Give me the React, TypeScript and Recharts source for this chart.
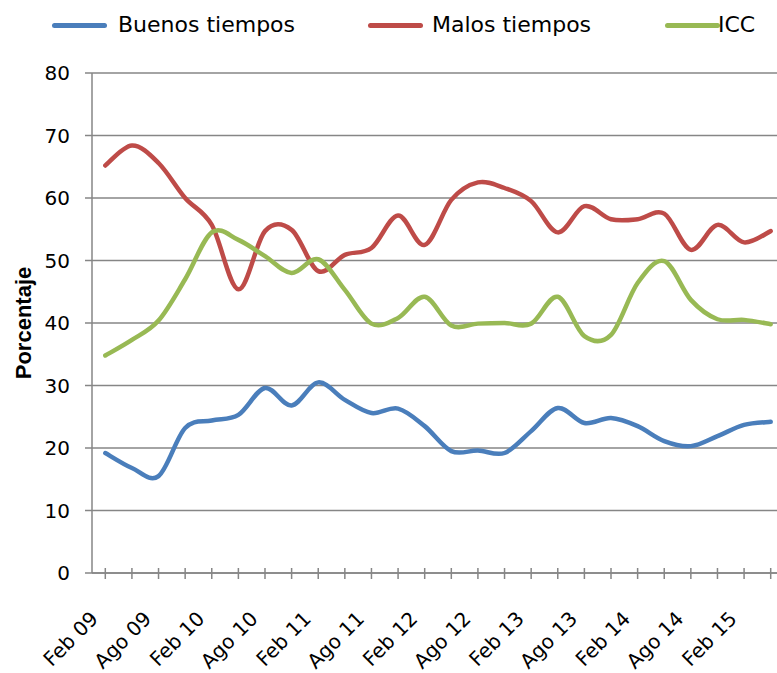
import React from "react";
import { LineChart, Line, XAxis, YAxis, CartesianGrid } from "recharts";

const categories = [
  "Feb 09", "May 09", "Ago 09", "Nov 09",
  "Feb 10", "May 10", "Ago 10", "Nov 10",
  "Feb 11", "May 11", "Ago 11", "Nov 11",
  "Feb 12", "May 12", "Ago 12", "Nov 12",
  "Feb 13", "May 13", "Ago 13", "Nov 13",
  "Feb 14", "May 14", "Ago 14", "Nov 14",
  "Feb 15", "May 15",
];

const buenosTiempos = [
  19.2, 16.8, 15.5, 23.2, 24.4, 25.3, 29.6, 26.8, 30.5, 27.7, 25.6, 26.3, 23.5,
  19.5, 19.6, 19.2, 22.7, 26.4, 24.0, 24.8, 23.5, 21.1, 20.3, 21.9, 23.7, 24.2,
];

const malosTiempos = [
  65.2, 68.4, 65.6, 60.0, 55.7, 45.4, 54.7, 54.9, 48.3, 50.9, 52.0, 57.2, 52.5,
  59.7, 62.5, 61.6, 59.5, 54.5, 58.7, 56.6, 56.6, 57.5, 51.7, 55.7, 52.9, 54.7,
];

const icc = [
  34.8, 37.3, 40.4, 47.0, 54.5, 53.3, 50.7, 48.0, 50.2, 45.3, 39.9, 40.8, 44.2,
  39.6, 39.9, 40.0, 39.9, 44.2, 37.9, 38.1, 46.4, 49.9, 43.7, 40.6, 40.5, 39.8,
];

const yTicks = [0, 10, 20, 30, 40, 50, 60, 70, 80];

const seriesNames = ["Buenos tiempos", "Malos tiempos", "ICC"];
const seriesColors = ["#4A7EBB", "#BE4B48", "#98B954"];

const data = categories.map((c, i) => ({
  cat: c,
  buenos: buenosTiempos[i],
  malos: malosTiempos[i],
  icc: icc[i],
}));

// Excel-like smoothed line (Catmull-Rom through the points)
function excelCurve(context: any) {
  let pts: number[][] = [];
  return {
    areaStart() {},
    areaEnd() {},
    lineStart() {
      pts = [];
    },
    point(x: number, y: number) {
      pts.push([+x, +y]);
    },
    lineEnd() {
      if (!pts.length) return;
      context.moveTo(pts[0][0], pts[0][1]);
      for (let i = 0; i < pts.length - 1; i++) {
        const p0 = pts[i - 1] || pts[i];
        const p1 = pts[i];
        const p2 = pts[i + 1];
        const p3 = pts[i + 2] || p2;
        context.bezierCurveTo(
          p1[0] + (p2[0] - p0[0]) / 6,
          p1[1] + (p2[1] - p0[1]) / 6,
          p2[0] - (p3[0] - p1[0]) / 6,
          p2[1] - (p3[1] - p1[1]) / 6,
          p2[0],
          p2[1]
        );
      }
    },
  };
}

const AXIS_COLOR = "#868686";
const TICK_FONT = "'DejaVu Sans', sans-serif";

const XTick = (props: any) => {
  const { x, y, payload, index } = props;
  const showLabel = index % 2 === 0;
  const tx = x - 6;
  const ty = y + 47;
  return (
    <g>
      <line x1={x} x2={x} y1={y - 5} y2={y + 6} stroke={AXIS_COLOR} strokeWidth={1.5} />
      {showLabel && (
        <text
          x={tx}
          y={ty}
          transform={`rotate(-45, ${tx}, ${ty})`}
          textAnchor="end"
          fontFamily={TICK_FONT}
          fontSize={20}
          fill="#000"
        >
          {payload.value}
        </text>
      )}
    </g>
  );
};

const YLabel = (props: any) => {
  const vb = props.viewBox || {};
  const cx = (vb.x || 0) + 23;
  const cy = (vb.y || 0) + (vb.height || 0) / 2;
  return (
    <text
      x={cx}
      y={cy}
      transform={`rotate(-90, ${cx}, ${cy})`}
      textAnchor="middle"
      dominantBaseline="central"
      fontFamily="'Liberation Sans', Arial, sans-serif"
      fontWeight="bold"
      fontSize={22}
      fill="#000"
    >
      Porcentaje
    </text>
  );
};

const legendLineLeft = [52, 368, 665];
const legendTextLeft = [118, 432, 718];

export default function App() {
  return (
    <div
      style={{
        position: "absolute",
        left: 0,
        top: 0,
        width: 777,
        height: 673,
        overflow: "hidden",
        background: "#fff",
      }}
    >
      <div style={{ position: "absolute", left: 0, top: 0, width: 777, height: 50 }}>
        {seriesNames.map((name, i) => (
          <React.Fragment key={name}>
            <div
              style={{
                position: "absolute",
                left: legendLineLeft[i],
                top: 23,
                width: 55,
                height: 5,
                borderRadius: 3,
                background: seriesColors[i],
              }}
            />
            <div
              style={{
                position: "absolute",
                left: legendTextLeft[i],
                top: 10,
                height: 30,
                lineHeight: "30px",
                whiteSpace: "nowrap",
                fontFamily: TICK_FONT,
                fontSize: 22,
                color: "#000",
              }}
            >
              {name}
            </div>
          </React.Fragment>
        ))}
      </div>
      <div style={{ position: "absolute", left: 0, top: 0 }}>
        <LineChart
          width={800}
          height={673}
          data={data}
          margin={{ top: 73, right: 16, bottom: 0, left: 0 }}
        >
          <CartesianGrid horizontal vertical={false} stroke={AXIS_COLOR} strokeWidth={1.5} />
          <XAxis
            dataKey="cat"
            interval={0}
            height={100}
            padding={{ left: 13.3, right: 13.3 }}
            tickSize={0}
            tickMargin={0}
            tickLine={false}
            axisLine={{ stroke: AXIS_COLOR, strokeWidth: 1.5 }}
            tick={<XTick />}
          />
          <YAxis
            domain={[0, 80]}
            ticks={yTicks}
            width={92}
            tickSize={7}
            tickMargin={15}
            tickLine={{ stroke: AXIS_COLOR, strokeWidth: 1.5 }}
            axisLine={{ stroke: AXIS_COLOR, strokeWidth: 1.5 }}
            tick={{ fill: "#000", fontSize: 20, fontFamily: TICK_FONT }}
            label={{ content: <YLabel /> }}
          />
          <Line
            dataKey="buenos"
            name={seriesNames[0]}
            stroke={seriesColors[0]}
            strokeWidth={4.5}
            strokeLinecap="round"
            type={excelCurve as any}
            dot={false}
            isAnimationActive={false}
          />
          <Line
            dataKey="malos"
            name={seriesNames[1]}
            stroke={seriesColors[1]}
            strokeWidth={4.5}
            strokeLinecap="round"
            type={excelCurve as any}
            dot={false}
            isAnimationActive={false}
          />
          <Line
            dataKey="icc"
            name={seriesNames[2]}
            stroke={seriesColors[2]}
            strokeWidth={4.5}
            strokeLinecap="round"
            type={excelCurve as any}
            dot={false}
            isAnimationActive={false}
          />
        </LineChart>
      </div>
    </div>
  );
}
